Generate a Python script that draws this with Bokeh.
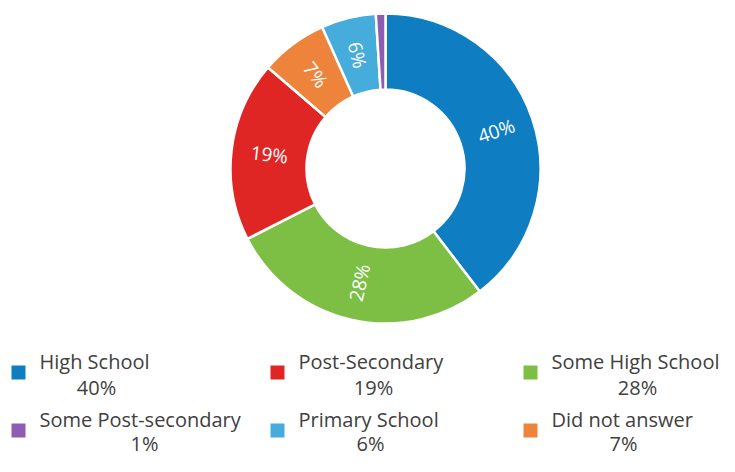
import numpy as np
from bokeh.plotting import figure
from bokeh.models import Range1d, ColumnDataSource
from bokeh.embed import file_html
from bokeh.resources import INLINE
from bokeh.core.properties import value

# ---- data (clockwise from 12 o'clock) ----
categories = ["High School", "Some High School", "Post-Secondary",
              "Did not answer", "Primary School", "Some Post-secondary"]
shares = [39.6, 27.9, 18.8, 7.0, 5.7, 1.0]
colors = ["#0E7DC2", "#7DBE45", "#E02625", "#EE843C", "#45ACDB", "#8E5CB3"]
legend_order = ["High School", "Post-Secondary", "Some High School",
                "Some Post-secondary", "Primary School", "Did not answer"]

FONT = "Open Sans"
W, H = 719, 456
p = figure(width=W, height=H, output_backend="svg", toolbar_location=None,
           x_range=Range1d(0, W), y_range=Range1d(0, H), min_border=0)
p.axis.visible = False
p.grid.visible = False
p.outline_line_color = None
p.background_fill_color = "white"
p.border_fill_color = "white"

def Y(screen_y):
    return H - screen_y

cx, cy = 385, Y(168)
r_in, r_out = 79, 155

s = np.array(shares, dtype=float)
frac = s / s.sum()
cum = np.cumsum(frac)
start = 90 - cum * 360
end = 90 - (cum - frac) * 360
mid = 90 - (cum - frac / 2) * 360
r_mid = (r_in + r_out) / 2
rot = ((mid + 90) % 180) - 90

src = ColumnDataSource(dict(cat=categories, start=start, end=end, color=colors))
p.annular_wedge(x=cx, y=cy, inner_radius=r_in, outer_radius=r_out,
                start_angle="start", end_angle="end",
                start_angle_units="deg", end_angle_units="deg",
                direction="anticlock", fill_color="color", line_color="white",
                line_width=2.5, source=src)

lab_mask = s >= 3
lsrc = ColumnDataSource(dict(
    x=(cx + r_mid * np.cos(np.radians(mid)))[lab_mask],
    y=(cy + r_mid * np.sin(np.radians(mid)))[lab_mask],
    t=[f"{round(v)}%" for v in s[lab_mask]],
    a=rot[lab_mask]))
p.text(x="x", y="y", text="t", angle="a", angle_units="deg", source=lsrc,
       text_color="white", text_font=value(FONT), text_font_size="19px",
       text_align="center", text_baseline="middle")

# ---- legend ----
col_marker_x = [18, 277, 530]
col_text_x = [39, 298, 551]
val_center_x = [[96, 373, 637], [144, 370, 623]]
row_title_y = [361, 419]
row_val_y = [387, 443]
row_marker_y = [372, 430]
color_of = dict(zip(categories, colors))
pct_of = dict(zip(categories, shares))

mx, my, mc, tx, ty, tt, vx, vy, vt = [], [], [], [], [], [], [], [], []
for i, cat in enumerate(legend_order):
    r, c = divmod(i, 3)
    mx.append(col_marker_x[c]); my.append(Y(row_marker_y[r])); mc.append(color_of[cat])
    tx.append(col_text_x[c]); ty.append(Y(row_title_y[r])); tt.append(cat)
    vx.append(val_center_x[r][c]); vy.append(Y(row_val_y[r])); vt.append(f"{round(pct_of[cat])}%")

p.rect(x=mx, y=my, width=14, height=14, fill_color=mc, line_color=None)
p.text(x=tx, y=ty, text=tt, text_color="#404040", text_font=value(FONT),
       text_font_size="20px", text_align="left", text_baseline="middle")
p.text(x=vx, y=vy, text=vt, text_color="#404040", text_font=value(FONT),
       text_font_size="20px", text_align="center", text_baseline="middle")

open("out.html", "w").write(file_html(p, INLINE))
